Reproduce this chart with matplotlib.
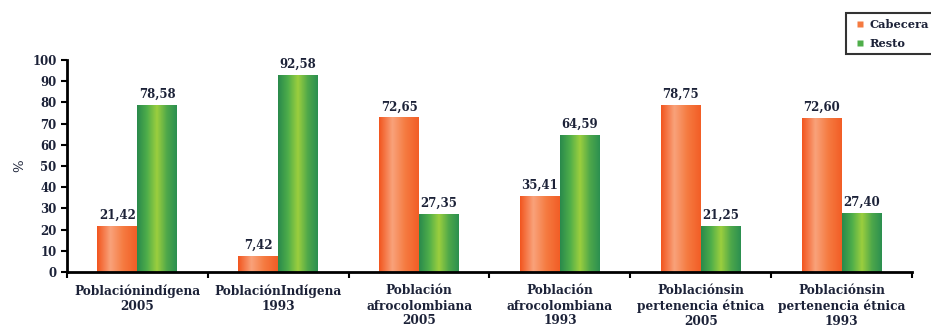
import numpy as np
import matplotlib
matplotlib.use("Agg")
import matplotlib.pyplot as plt
from matplotlib.colors import LinearSegmentedColormap
from matplotlib.lines import Line2D

categorias = ["Poblaciónindígena\n2005", "PoblaciónIndígena\n1993",
              "Población\nafrocolombiana\n2005", "Población\nafrocolombiana\n1993",
              "Poblaciónsin\npertenencia étnica\n2005", "Poblaciónsin\npertenencia étnica\n1993"]
cabecera = [21.42, 7.42, 72.65, 35.41, 78.75, 72.60]
resto = [78.58, 92.58, 27.35, 64.59, 21.25, 27.40]

txt = "#1c2238"
plt.rcParams["font.family"] = ["DejaVu Serif"]
plt.rcParams["font.weight"] = "bold"

cmap_nar = LinearSegmentedColormap.from_list("nar", ["#f2561f", "#f9a27a", "#f57a40", "#f25e26"])
cmap_ver = LinearSegmentedColormap.from_list("ver", ["#2a8a4c", "#4fae4a", "#9ccf3e", "#4fa84a", "#2c9050"])

fig = plt.figure(figsize=(9.31, 3.28), dpi=100)
ax = fig.add_axes([67/931, 1-272/328, (912-67)/931, (272-60)/328])

x = np.arange(len(categorias))
w = 0.284
b1 = ax.bar(x - w/2, cabecera, w, color="none")
b2 = ax.bar(x + w/2, resto, w, color="none")

# gradiente horizontal dentro de cada barra
grad = np.linspace(0, 1, 64).reshape(1, -1)
for bars, cm in ((b1, cmap_nar), (b2, cmap_ver)):
    for r in bars:
        x0, h = r.get_x(), r.get_height()
        ax.imshow(grad, extent=[x0, x0 + r.get_width(), 0, h], aspect="auto",
                  cmap=cm, zorder=2, interpolation="bilinear")

for bars, vals in ((b1, cabecera), (b2, resto)):
    for r, v in zip(bars, vals):
        ax.text(r.get_x() + r.get_width()/2, v + 2.2, f"{v:.2f}".replace(".", ","),
                ha="center", va="bottom", fontsize=8.5, color=txt)

ax.set_xlim(-0.5, len(categorias) - 0.5)
ax.set_ylim(0, 100)
ax.set_yticks(range(0, 101, 10))
ax.set_xticks(np.arange(len(categorias) + 1) - 0.5)
ax.set_xticklabels([])
ax.set_xticks(x, minor=True)
ax.set_xticklabels(categorias, minor=True, fontsize=8.7, color=txt, linespacing=1.2)
ax.tick_params(axis="x", which="minor", length=0, pad=9)
ax.tick_params(axis="x", which="major", length=4, width=1.5, direction="out")
ax.tick_params(axis="y", length=4, width=1.5, labelsize=8.5, labelcolor=txt)
for s in ("top", "right"):
    ax.spines[s].set_visible(False)
for s in ("left", "bottom"):
    ax.spines[s].set_linewidth(2)
ax.set_ylabel("%", fontsize=9.5, color=txt, labelpad=4)

handles = [Line2D([], [], ls="none", marker="s", ms=4, mec="none",
                  mfc="#f57a40", label="Cabecera"),
           Line2D([], [], ls="none", marker="s", ms=4, mec="none",
                  mfc="#4fae4a", label="Resto")]
leg = fig.legend(handles=handles, loc="upper left", bbox_to_anchor=(846/931, 1-13/328),
                 fontsize=8.2, handlelength=1.4, handletextpad=0.15,
                 fancybox=False, edgecolor="black", borderpad=0.5, labelspacing=0.7,
                 labelcolor=txt, borderaxespad=0)
leg.get_frame().set_linewidth(1.5)

fig.savefig("out.png", dpi=100, facecolor="white")
